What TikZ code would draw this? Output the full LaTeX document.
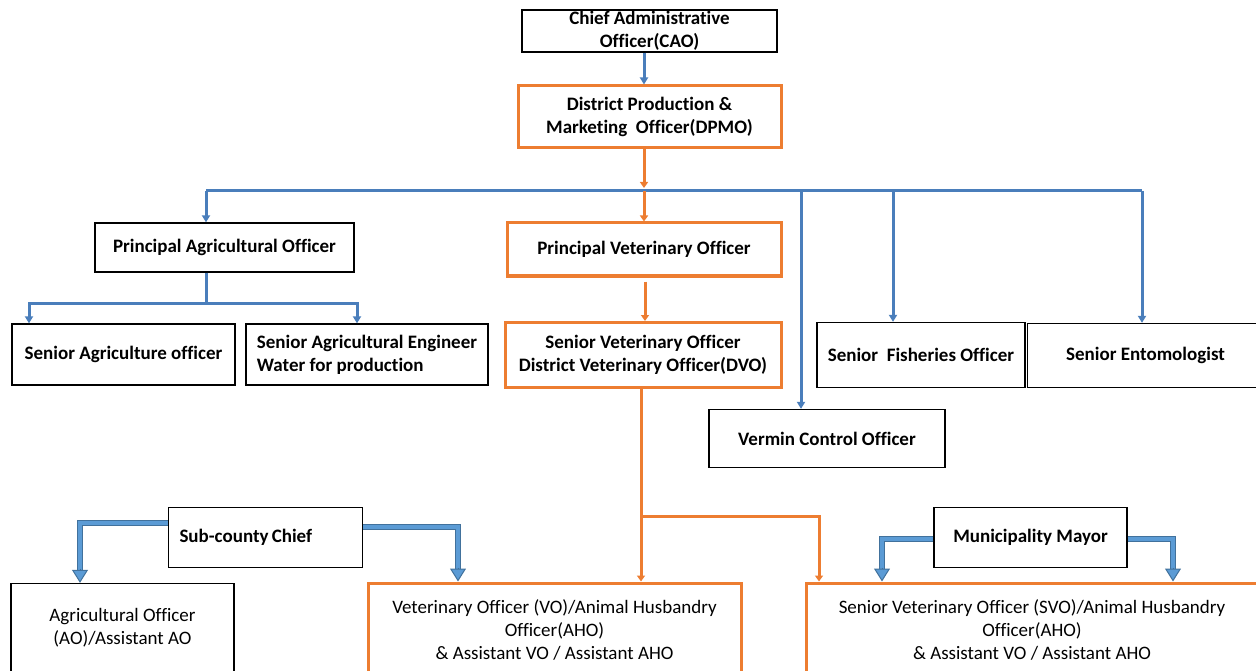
\documentclass[tikz,border=0pt]{standalone}
\usepackage{fontspec}
\setmainfont{Carlito}[Ligatures=CommonOff]
\usetikzlibrary{arrows.meta}
\definecolor{bluec}{RGB}{74,126,187}
\definecolor{orgc}{RGB}{237,125,49}
\definecolor{dblout}{RGB}{65,113,156}
\definecolor{dblin}{RGB}{91,155,213}
\begin{document}
\begin{tikzpicture}[x=1pt,y=-1pt,
  box/.style={draw=black, line width=1.3pt, align=center, inner sep=0pt, font=\fontsize{19}{23}\selectfont\bfseries, text=black},
  nbox/.style={box, font=\fontsize{19}{23}\selectfont\mdseries},
  obox/.style={box, draw=orgc, line width=3pt},
  onbox/.style={obox, font=\fontsize{19}{23}\selectfont\mdseries},
  bline/.style={draw=bluec, line width=3pt},
  barr/.style={bline, -{Triangle[width=8pt,length=7pt]}},
  oline/.style={draw=orgc, line width=3pt},
  oarr/.style={oline, -{Triangle[width=8pt,length=6pt]}},
  dbl/.style={draw=dblout, line width=1.4pt, double=dblin, double distance=4pt, line join=miter},
  dblhead/.style={draw=dblout, line width=1pt, -{Triangle[width=16pt,length=13pt,fill=dblin]}},
]
\useasboundingbox (0,0) rectangle (1256,671);
\clip (0,0) rectangle (1256,671);

% nodes
\node[box, minimum width=255pt, minimum height=42pt] (cao) at (649.5,31) {Chief Administrative\\Officer(CAO)};
\node[obox, minimum width=263pt, minimum height=62pt] (dpmo) at (649.5,117) {District Production \&\\Marketing~~Officer(DPMO)};
\node[box, minimum width=259pt, minimum height=49pt] (pao) at (224.5,247.5) {Principal~Agricultural Officer};
\node[obox, minimum width=274pt, minimum height=53pt] (pvo) at (644,249.5) {Principal Veterinary Officer};
\node[box, minimum width=223pt, minimum height=61pt] (sao) at (123.5,354.5) {Senior Agriculture officer};
\node[box, minimum width=242pt, minimum height=61pt, align=left] (sae) at (367,354.5) {Senior Agricultural~Engineer\\Water for production};
\node[obox, minimum width=276pt, minimum height=65pt] (dvo) at (643,355) {Senior Veterinary Officer\\District Veterinary Officer(DVO)};
\node[box, minimum width=208pt, minimum height=65pt] (fish) at (921,355) {Senior~~Fisheries Officer};
\node[box, minimum width=236pt, minimum height=64pt] (ento) at (1145.5,355.5) {Senior Entomologist};
\node[box, minimum width=236pt, minimum height=58pt] (vermin) at (827,438.5) {Vermin Control Officer};
\node[box, text width=172pt, inner xsep=11pt, align=left, minimum height=60pt] (scc) at (265.5,537.5) {Sub-county\,Chief};
\node[box, minimum width=193pt, minimum height=60pt] (mayor) at (1030.5,537.5) {Municipality Mayor};
\node[nbox, minimum width=223pt, minimum height=89pt] (ao) at (122.5,628) {Agricultural Officer\\(AO)/Assistant AO};
\node[onbox, minimum width=373pt, minimum height=94pt] (vo) at (554.5,630) {Veterinary Officer (VO)/Animal Husbandry\\Officer(AHO)\\\& Assistant VO / Assistant AHO};
\node[onbox, minimum width=452pt, minimum height=94pt] (svo) at (1032,630) {Senior Veterinary Officer (SVO)/Animal Husbandry\\Officer(AHO)\\\& Assistant VO / Assistant AHO};

% coordinates
\coordinate (busL) at (206,191);
\coordinate (busC) at (644,191);
\coordinate (busV) at (801,191);
\coordinate (busF) at (893,191);
\coordinate (busR) at (1142,191);
\coordinate (pvoX) at (645,0);
\coordinate (paoB) at (206,303);
\coordinate (subL) at (29,303);
\coordinate (subR) at (357,303);
\coordinate (dvoJ) at (641,516);
\coordinate (dvoR) at (819,516);
\coordinate (sccL) at (80,523);
\coordinate (sccR) at (458,527);
\coordinate (mayL) at (882,539);
\coordinate (mayR) at (1173,539);

% connectors
\draw[barr] (busC |- cao.south) -- (busC |- dpmo.north);
\draw[bline] (busL) -- (busR);
\draw[barr] (busL) -- (busL |- pao.north);
\draw[barr] (busV) -- (busV |- vermin.north);
\draw[barr] (busF) -- (busF |- fish.north);
\draw[barr] (busR) -- (busR |- ento.north);
\draw[oarr] (busC |- dpmo.south) -- ([yshift=3pt]busC);
\draw[oarr] (busC) -- (busC |- pvo.north);
\draw[oarr] ([yshift=-4pt]pvoX |- pvo.south) -- (pvoX |- dvo.north);

\draw[bline] (paoB |- pao.south) -- (paoB);
\draw[barr] (paoB) -- (subL) -- (subL |- sao.north);
\draw[barr] (paoB) -- (subR) -- (subR |- sae.north);

\draw[oarr] (dvoJ |- dvo.south) -- (dvoJ |- vo.north);
\draw[oarr] (dvoJ) -- (dvoR) -- (dvoR |- svo.north);

% double arrows
\draw[dbl] (sccL -| scc.west) -- (sccL) -- ([yshift=12pt]sccL |- ao.north);
\draw[dblhead] ([yshift=14pt]sccL |- ao.north) -- (sccL |- ao.north);
\draw[dbl] (sccR -| scc.east) -- (sccR) -- ([yshift=12pt]sccR |- vo.north);
\draw[dblhead] ([yshift=14pt]sccR |- vo.north) -- (sccR |- vo.north);
\draw[dbl] (mayL -| mayor.west) -- (mayL) -- ([yshift=12pt]mayL |- svo.north);
\draw[dblhead] ([yshift=14pt]mayL |- svo.north) -- (mayL |- svo.north);
\draw[dbl] (mayR -| mayor.east) -- (mayR) -- ([yshift=12pt]mayR |- svo.north);
\draw[dblhead] ([yshift=14pt]mayR |- svo.north) -- (mayR |- svo.north);
\end{tikzpicture}
\end{document}
